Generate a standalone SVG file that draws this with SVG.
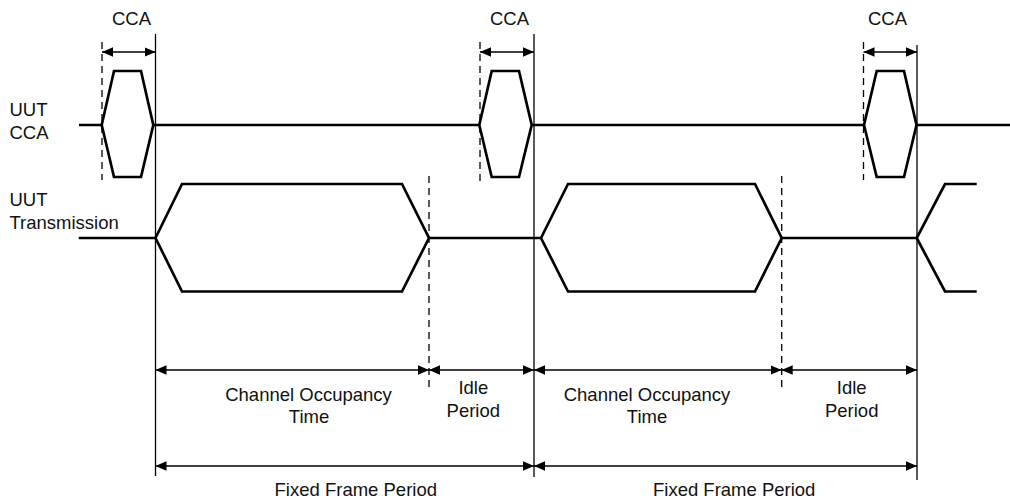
<svg xmlns="http://www.w3.org/2000/svg" width="1010" height="501" viewBox="0 0 1010 501">
<defs>
<marker id="ah" viewBox="0 0 11 9.4" refX="11" refY="4.7" markerWidth="11" markerHeight="9.4" markerUnits="userSpaceOnUse" orient="auto-start-reverse">
<path d="M0,0 L11,4.7 L0,9.4 z" fill="#000"/>
</marker>
<style>
.sig{fill:none;stroke:#000;stroke-width:2.7;stroke-linejoin:miter}
.solid{stroke:#000;stroke-width:1.3}
.dash{stroke:#000;stroke-width:1.3;stroke-dasharray:7 5}
.dim{stroke:#000;stroke-width:1.5;marker-start:url(#ah);marker-end:url(#ah)}
text{font-family:"Liberation Sans",Arial,sans-serif;font-size:18.5px;fill:#111}
.c{text-anchor:middle}
</style>
</defs>
<rect width="1010" height="501" fill="#fff"/>

<g id="labels">
<text x="9.5" y="116">UUT</text>
<text x="9.5" y="139">CCA</text>
<text x="9.5" y="206">UUT</text>
<text x="9.5" y="229">Transmission</text>
</g>

<g id="cca-labels">
<text class="c" x="131.5" y="25">CCA</text>
<text class="c" x="509.5" y="25">CCA</text>
<text class="c" x="887.5" y="25">CCA</text>
</g>

<g id="guides">
<line class="solid" x1="155.5" y1="34" x2="155.5" y2="476"/>
<line class="solid" x1="534" y1="34" x2="534" y2="477"/>
<line class="solid" x1="917" y1="45" x2="917" y2="480"/>
<line class="dash" x1="102" y1="42" x2="102" y2="180"/>
<line class="dash" x1="480" y1="42" x2="480" y2="184"/>
<line class="dash" x1="863.5" y1="42" x2="863.5" y2="180"/>
<line class="dash" x1="429" y1="176" x2="429" y2="392"/>
<line class="dash" x1="781.7" y1="176" x2="781.7" y2="392"/>
</g>

<g id="uut-cca">
<path class="sig" d="M79,125 H101.7 L114,71 H141 L153.3,125 L141,177 H114 L101.7,125 M153.3,125 H479.3 L491.7,71 H519 L531.7,125 L519,177 H491.7 L479.3,125 M531.7,125 H864 L876.7,71 H904 L916.5,125 L904,177 H876.7 L864,125 M916.5,125 H1010"/>
</g>

<g id="uut-tx">
<path class="sig" d="M78.7,238 H155.5 L182,184 H402 L429,238 L402,291.5 H182 L155.5,238 M429,238 H541 L568,184 H755 L781.7,238 L755,291.5 H568 L541,238 M781.7,238 H916.7 M976.7,184 H945 L916.7,238 L945,291.5 H976.7"/>
</g>

<g id="connectors">
<line class="dim" x1="102" y1="52" x2="155.5" y2="52"/>
<line class="dim" x1="480" y1="52" x2="534" y2="52"/>
<line class="dim" x1="863.5" y1="52" x2="917" y2="52"/>
<line class="dim" x1="155.5" y1="370" x2="429" y2="370"/>
<line class="dim" x1="429" y1="370" x2="534" y2="370"/>
<line class="dim" x1="534" y1="370" x2="781.7" y2="370"/>
<line class="dim" x1="781.7" y1="370" x2="917" y2="370"/>
<line class="dim" x1="155.5" y1="466" x2="534" y2="466"/>
<line class="dim" x1="534" y1="466" x2="917" y2="466"/>
</g>

<g id="dim-labels">
<text class="c" x="308.5" y="400.5">Channel Occupancy</text>
<text class="c" x="309" y="423.3">Time</text>
<text class="c" x="473.3" y="394.3">Idle</text>
<text class="c" x="473.3" y="417">Period</text>
<text class="c" x="647" y="400.5">Channel Occupancy</text>
<text class="c" x="647" y="423.3">Time</text>
<text class="c" x="851.7" y="394.3">Idle</text>
<text class="c" x="851.7" y="417">Period</text>
<text class="c" x="355.8" y="496">Fixed Frame Period</text>
<text class="c" x="734.2" y="496">Fixed Frame Period</text>
</g>
</svg>
